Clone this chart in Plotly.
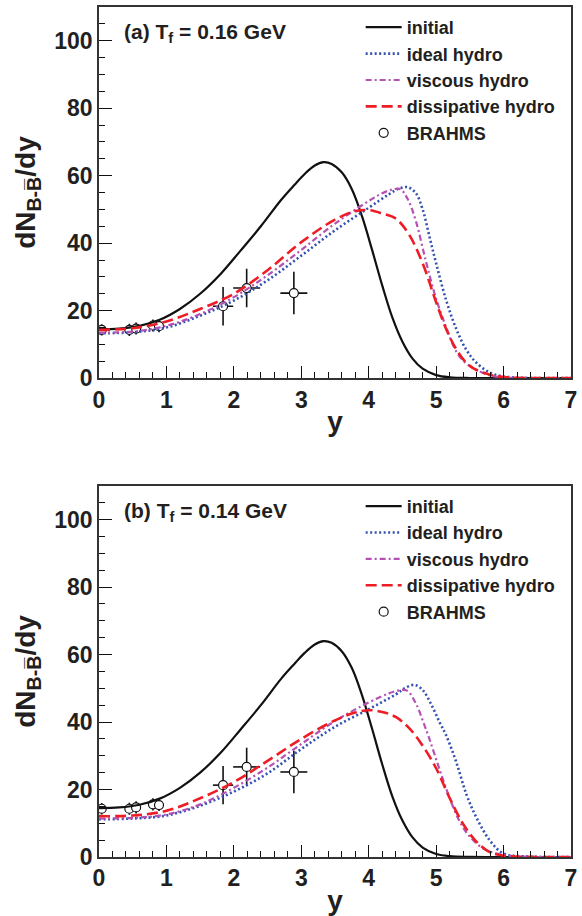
import plotly.graph_objects as go

# ---------------- data ----------------
# initial (same in both panels)
x_init = [0, 0.3, 0.6, 0.9, 1.2, 1.5, 1.8, 2.1, 2.4, 2.7, 2.9, 3.05, 3.2, 3.33, 3.45, 3.6, 3.75, 3.9, 4.05, 4.2, 4.35, 4.5, 4.65, 4.8, 5.0, 5.2, 5.5, 6.0, 7.0]
y_init = [14.5, 14.7, 15.5, 17.3, 20.5, 25.0, 30.8, 37.8, 45.0, 52.8, 57.3, 60.5, 63.0, 64.0, 63.5, 61.0, 56.0, 48.0, 38.0, 27.5, 18.0, 10.8, 5.8, 2.8, 0.9, 0.25, 0.03, 0, 0]

# panel (a) Tf = 0.16 GeV
xa_ideal = [0, 0.5, 1.0, 1.5, 2.0, 2.5, 3.0, 3.5, 4.0, 4.3, 4.45, 4.58, 4.7, 4.8, 4.9, 5.0, 5.15, 5.3, 5.45, 5.6, 5.8, 6.0, 6.3, 7.0]
ya_ideal = [13.3, 13.6, 15.0, 18.5, 23.0, 29.0, 36.3, 43.8, 50.5, 54.5, 56.2, 56.6, 54.8, 50.0, 42.0, 34.0, 23.0, 14.5, 8.3, 4.5, 1.6, 0.5, 0.1, 0]

xa_visc = [0, 0.5, 1.0, 1.5, 2.0, 2.5, 3.0, 3.5, 4.0, 4.2, 4.35, 4.47, 4.58, 4.7, 4.85, 5.0, 5.15, 5.3, 5.45, 5.6, 5.8, 6.0, 6.3, 7.0]
ya_visc = [13.5, 13.8, 15.5, 19.0, 24.0, 30.5, 38.0, 45.8, 52.5, 54.8, 55.9, 56.0, 53.0, 46.5, 34.5, 23.5, 15.0, 7.8, 4.3, 2.4, 0.8, 0.2, 0.05, 0]

xa_diss = [0, 0.5, 1.0, 1.5, 2.0, 2.5, 3.0, 3.5, 3.8, 4.0, 4.2, 4.4, 4.6, 4.8, 5.0, 5.15, 5.3, 5.45, 5.6, 5.8, 6.0, 6.3, 7.0]
ya_diss = [14.3, 14.8, 16.8, 20.5, 25.0, 32.0, 40.3, 47.0, 49.5, 49.8, 48.8, 47.3, 42.5, 34.0, 22.5, 14.5, 8.5, 4.5, 2.4, 1.0, 0.3, 0.05, 0]

# panel (b) Tf = 0.14 GeV
xb_ideal = [0, 0.5, 1.0, 1.5, 2.0, 2.5, 3.0, 3.5, 4.0, 4.4, 4.55, 4.68, 4.8, 4.92, 5.05, 5.15, 5.3, 5.45, 5.6, 5.8, 6.0, 6.3, 7.0]
yb_ideal = [11.2, 11.4, 12.3, 15.2, 19.4, 24.8, 32.0, 38.6, 43.8, 48.2, 50.2, 51.0, 49.5, 45.5, 40.0, 36.0, 28.0, 18.5, 11.6, 4.8, 1.0, 0.2, 0]

xb_visc = [0, 0.5, 1.0, 1.5, 2.0, 2.5, 3.0, 3.5, 4.0, 4.3, 4.45, 4.57, 4.7, 4.8, 4.9, 5.05, 5.2, 5.35, 5.5, 5.7, 5.9, 6.2, 7.0]
yb_visc = [11.4, 11.6, 12.6, 15.6, 20.5, 26.5, 33.5, 40.3, 45.8, 48.5, 49.4, 49.3, 45.5, 40.5, 35.0, 26.0, 17.5, 10.5, 6.0, 2.5, 1.0, 0.2, 0]

xb_diss = [0, 0.5, 1.0, 1.5, 2.0, 2.5, 3.0, 3.5, 3.8, 4.0, 4.2, 4.4, 4.6, 4.8, 5.0, 5.2, 5.4, 5.6, 5.8, 6.0, 6.3, 7.0]
yb_diss = [12.1, 12.3, 13.7, 17.4, 22.2, 28.5, 35.0, 40.5, 42.8, 43.5, 43.0, 41.5, 38.2, 33.0, 26.3, 17.5, 9.8, 4.5, 1.4, 0.4, 0.05, 0]

# BRAHMS data
x_data = [0.04, 0.45, 0.55, 0.80, 0.89, 1.84, 2.19, 2.89]
y_data = [14.3, 14.3, 14.7, 15.6, 15.4, 21.3, 26.7, 25.2]
yerr_data = [1.7, 1.8, 1.8, 1.8, 1.8, 5.7, 5.7, 6.3]
xerr_data = [0.05, 0.05, 0.05, 0.05, 0.05, 0.15, 0.2, 0.2]

names = ["initial", "ideal hydro", "viscous hydro", "dissipative hydro", "BRAHMS"]
panel_labels = ["(a) T<sub>f</sub> = 0.16 GeV", "(b) T<sub>f</sub> = 0.14 GeV"]
x_ticks = [0, 1, 2, 3, 4, 5, 6, 7]
y_ticks = [0, 20, 40, 60, 80, 100]

# ---------------- styles ----------------
FONT = "Liberation Sans, Arial, Helvetica, sans-serif"
TXT = "#231f20"
C_BLACK = "#111111"
C_BLUE = "#3451b2"
C_MAG = "#b452b4"
C_RED = "#ee1c25"

fig = go.Figure()

panels = [
    ("x", "y", "legend", (xa_ideal, ya_ideal), (xa_visc, ya_visc), (xa_diss, ya_diss)),
    ("x2", "y2", "legend2", (xb_ideal, yb_ideal), (xb_visc, yb_visc), (xb_diss, yb_diss)),
]

SM = 1.0
for xa, ya, lg, ideal, visc, diss in panels:
    fig.add_trace(go.Scatter(
        x=x_data, y=y_data, mode="markers", name=names[4], legend=lg, legendrank=5,
        xaxis=xa, yaxis=ya,
        marker=dict(symbol="circle", size=9, color="white", line=dict(color=C_BLACK, width=1.2)),
        error_y=dict(type="data", array=yerr_data, color=C_BLACK, thickness=1.6, width=0),
        error_x=dict(type="data", array=xerr_data, color=C_BLACK, thickness=1.6, width=0),
    ))
    fig.add_trace(go.Scatter(
        x=x_init, y=y_init, mode="lines", name=names[0], legend=lg, legendrank=1,
        xaxis=xa, yaxis=ya, line=dict(color=C_BLACK, width=2.2, shape="spline", smoothing=SM),
    ))
    fig.add_trace(go.Scatter(
        x=ideal[0], y=ideal[1], mode="lines", name=names[1], legend=lg, legendrank=2,
        xaxis=xa, yaxis=ya, line=dict(color=C_BLUE, width=2.6, dash="2px,2.5px", shape="spline", smoothing=SM),
    ))
    fig.add_trace(go.Scatter(
        x=visc[0], y=visc[1], mode="lines", name=names[2], legend=lg, legendrank=3,
        xaxis=xa, yaxis=ya, line=dict(color=C_MAG, width=2.2, dash="6px,3px,2px,3px", shape="spline", smoothing=SM),
    ))
    fig.add_trace(go.Scatter(
        x=diss[0], y=diss[1], mode="lines", name=names[3], legend=lg, legendrank=4,
        xaxis=xa, yaxis=ya, line=dict(color=C_RED, width=2.6, dash="11px,5px", shape="spline", smoothing=SM),
    ))

ML, MR, MT, MB = 99, 5, 6, 58
W, H = 582, 916
ph = H - MT - MB
panel_h = 372
top_dom = [1 - panel_h / ph, 1]
bot_dom = [0, panel_h / ph]

def xax(anchor):
    return dict(
        domain=[0, 1], anchor=anchor, range=[0, 7], tickvals=x_ticks,
        ticks="inside", ticklen=12, tickwidth=1.4, tickcolor=C_BLACK,
        minor=dict(ticks="inside", ticklen=6, tickwidth=1.2, tickcolor=C_BLACK, dtick=0.2, tick0=0, showgrid=False),
        showline=True, linecolor="#333333", linewidth=1.6, mirror=True,
        showgrid=False, zeroline=False,
        tickfont=dict(size=23, color=TXT, family=FONT, weight="bold"),
        title=dict(text="y", font=dict(size=28, color=TXT, family=FONT, weight="bold"), standoff=0),
    )

def yax(anchor, dom):
    return dict(
        domain=dom, anchor=anchor, range=[0, 110], tickvals=y_ticks,
        ticks="inside", ticklen=13, tickwidth=1.4, tickcolor=C_BLACK,
        minor=dict(ticks="inside", ticklen=6.5, tickwidth=1.2, tickcolor=C_BLACK, dtick=5, tick0=0, showgrid=False),
        showline=True, linecolor="#333333", linewidth=1.6, mirror=True,
        showgrid=False, zeroline=False,
        tickfont=dict(size=23, color=TXT, family=FONT, weight="bold"),
        title=dict(text="dN<sub>B-B\u0305</sub>/dy", font=dict(size=28, color=TXT, family=FONT, weight="bold"), standoff=10),
    )

leg_x = (364 - ML) / (W - ML - MR)
def legend(ytop_px):
    return dict(
        x=leg_x, xanchor="left", y=(H - MB - ytop_px) / ph, yanchor="top",
        bgcolor="rgba(0,0,0,0)", borderwidth=0, itemwidth=36,
        font=dict(size=18, color=TXT, family=FONT, weight="bold"),
        traceorder="normal", tracegroupgap=0,
    )

fig.update_layout(
    width=W, height=H,
    margin=dict(l=ML, r=MR, t=MT, b=MB),
    paper_bgcolor="white", plot_bgcolor="white",
    font=dict(family=FONT, color=TXT, weight="bold"),
    showlegend=True,
    xaxis=xax("y"), yaxis=yax("x", top_dom),
    xaxis2=xax("y2"), yaxis2=yax("x2", bot_dom),
    legend=legend(8), legend2=legend(488),
)

for i, (xr, yr) in enumerate([("x domain", "y domain"), ("x2 domain", "y2 domain")]):
    fig.add_annotation(
        text=panel_labels[i], xref=xr, yref=yr, x=0.048, y=0.93,
        xanchor="left", yanchor="middle", showarrow=False,
        font=dict(size=21, color=TXT, family=FONT, weight="bold"),
    )

fig.write_html("out.html", config={"displayModeBar": False},
               post_script="document.body.style.margin='0';document.body.style.overflow='hidden';")
